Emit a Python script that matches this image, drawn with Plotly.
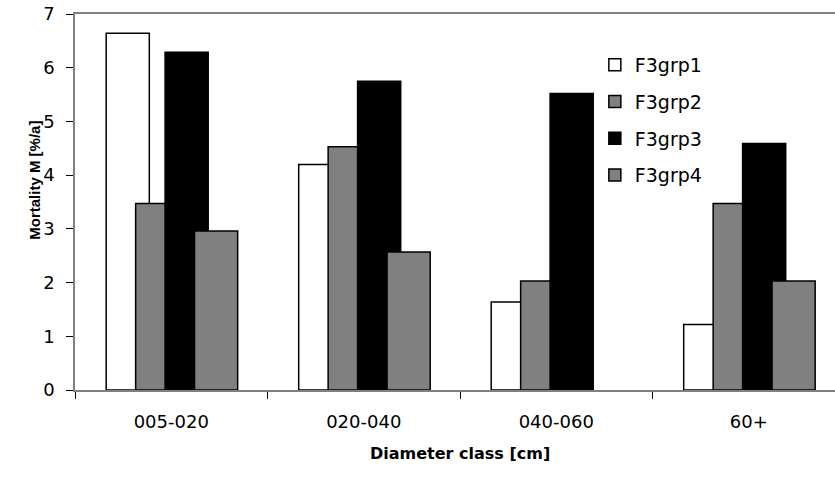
import plotly.graph_objects as go

# Diameter classes and mortality rates (%/a) per group
classes = ["005-020", "020-040", "040-060", "60+"]
series_names = ["F3grp1", "F3grp2", "F3grp3", "F3grp4"]
grp1 = [6.64, 4.20, 1.64, 1.22]
grp2 = [3.47, 4.53, 2.03, 3.47]
grp3 = [6.29, 5.75, 5.52, 4.59]
grp4 = [2.96, 2.57, None, 2.03]
fills = ["#ffffff", "#808080", "#000000", "#808080"]

# overlapping bars inside each class (later series drawn over earlier ones)
bar_width = 0.224
offsets = [-0.338, -0.185, -0.032, 0.121]

FONT = "DejaVu Sans, Liberation Sans, Arial, sans-serif"
TITLE_FONT = "Liberation Sans, Arial, sans-serif"
X_RANGE = [-0.5, 3.448]

fig = go.Figure()
for name, vals, fill, off in zip(series_names, [grp1, grp2, grp3, grp4], fills, offsets):
    fig.add_trace(go.Bar(
        x=classes, y=vals, name=name, width=bar_width, offset=off,
        marker=dict(color=fill, line=dict(color="#000000", width=1.5)),
        legendgroup=name,
    ))

fig.update_layout(
    width=835, height=479,
    margin=dict(l=75, r=0, t=14, b=89),
    paper_bgcolor="white", plot_bgcolor="white",
    barmode="overlay",
    font=dict(family=FONT, size=18, color="#000000"),
    showlegend=True,
    legend=dict(x=0.684, y=0.915, xanchor="left", yanchor="top",
                bgcolor="rgba(0,0,0,0)", font=dict(size=19),
                tracegroupgap=9, itemwidth=30),
    xaxis=dict(type="category", range=X_RANGE, tickson="boundaries",
               ticks="outside", ticklen=7, tickcolor="#000000", tickwidth=1,
               showline=True, linecolor="#808080", linewidth=1.5, mirror=True,
               showgrid=False, tickfont=dict(size=18), ticklabelstandoff=15),
    xaxis2=dict(overlaying="x", anchor="y", type="linear", range=X_RANGE,
                tickvals=[-0.5, 0.5, 1.5, 2.5], ticks="inside", ticklen=7,
                tickcolor="#000000", tickwidth=1, showticklabels=False,
                showline=False, showgrid=False, zeroline=False),
    yaxis=dict(range=[0, 7], dtick=1, ticks="outside", ticklen=7,
               tickcolor="#000000", tickwidth=1, showline=True,
               linecolor="#808080", linewidth=1.5, showgrid=False,
               zeroline=False, tickfont=dict(size=18), ticklabelstandoff=8),
    yaxis2=dict(overlaying="y", anchor="x", side="left", range=[0, 7], dtick=1,
                ticks="inside", ticklen=7, tickcolor="#000000", tickwidth=1,
                showticklabels=False, showline=False, showgrid=False,
                zeroline=False),
    annotations=[
        dict(text="<b>Mortality M [%/a]</b>", xref="paper", yref="paper",
             x=-0.067, y=0.558, textangle=-90, showarrow=False,
             font=dict(family=TITLE_FONT, size=15)),
        dict(text="<b>Diameter class [cm]</b>", xref="paper", yref="paper",
             x=0.507, y=-0.1995, showarrow=False, font=dict(size=16)),
    ],
)

fig.write_html("out.html")
